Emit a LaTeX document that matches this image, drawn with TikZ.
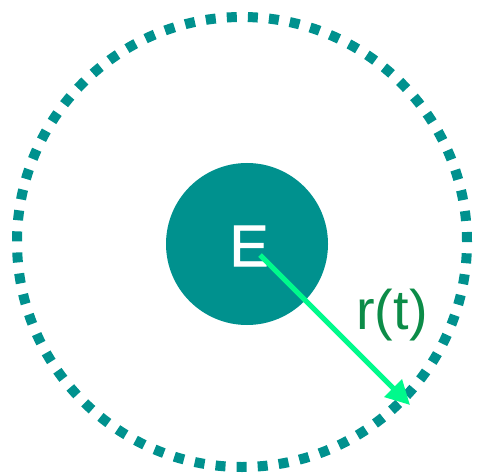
\documentclass[tikz,border=0pt]{standalone}
\usepackage{fontspec}
\setmainfont{Liberation Sans}
\newfontfamily\heavyfont[FakeBold=1.6]{Liberation Sans}
\usetikzlibrary{arrows.meta}
\definecolor{orbitteal}{RGB}{0,145,142}
\definecolor{arrowgreen}{RGB}{0,250,140}
\definecolor{labelgreen}{RGB}{12,140,72}

\begin{document}
\begin{tikzpicture}[x=1bp,y=-1bp,>={Triangle[length=24bp,width=24bp]},line cap=butt]
\useasboundingbox (0,0) rectangle (482,475);
\draw[orbitteal,line width=10bp,dash pattern=on 10bp off 11.1bp] (242,242) circle (225bp);
\node[circle,fill=orbitteal,minimum size=162bp,inner sep=0pt] (earth) at (247,244) {};
\node[white,font=\heavyfont\fontsize{59}{59}\selectfont] (elabel) at (249,246) {E};
\coordinate (rstart) at (260,255);
\coordinate (rtip) at (410,405);
\draw[->,arrowgreen,line width=5bp] (rstart) -- (rtip);
\node[labelgreen,font=\fontsize{56}{56}\selectfont] (rlabel) at (392,315) {r(t)};
\end{tikzpicture}
\end{document}
